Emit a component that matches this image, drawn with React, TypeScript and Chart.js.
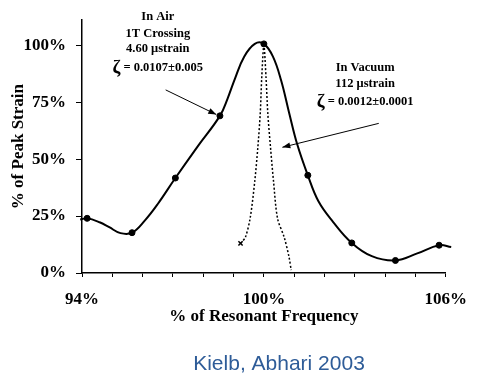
import React, { useEffect, useRef } from 'react';
import { Chart, registerables } from 'chart.js';
Chart.register(...registerables);

// In-air response curve
const airFreq = [93.94, 94.17, 94.58, 94.9, 95.27, 95.65, 96.07, 96.5, 97.08, 97.8, 98.55, 98.8, 99.05, 99.35, 99.7, 100.0, 100.3, 100.57, 100.83, 101.1, 101.45, 101.8, 102.28, 102.9, 103.56, 104.34, 105.06, 105.78, 106.18];
const airStrain = [23.5, 24.0, 22.3, 20.1, 17.5, 17.7, 23.0, 30.3, 41.7, 55.3, 69.0, 76.5, 85.5, 95.0, 100.6, 100.6, 95.0, 84.5, 70.5, 56.5, 42.9, 31.5, 22.5, 13.2, 7.4, 5.5, 8.6, 12.2, 11.4];
// Measured points on the in-air curve
const airMarkerFreq = [94.17, 95.65, 97.08, 98.55, 100.0, 101.45, 102.9, 104.34, 105.78];
const airMarkerStrain = [24.0, 17.7, 41.7, 69.0, 100.6, 42.9, 13.2, 5.5, 12.2];
// In-vacuum response curve
const vacFreq = [99.23, 99.39, 99.55, 99.7, 99.8, 99.88, 99.93, 100.0, 100.07, 100.13, 100.22, 100.32, 100.45, 100.67, 100.83, 100.9];
const vacStrain = [13.0, 15.7, 24.3, 40.4, 55.0, 70.0, 86.0, 100.0, 86.0, 70.0, 55.0, 40.0, 24.0, 15.7, 7.0, 1.3];

const xLabelValues = [94, 100, 106];
const yTickValues = [0, 25, 50, 75, 100];

const airNote = ['In Air', '1T Crossing', '4.60 \u03bcstrain'];
const airZeta = '= 0.0107\u00b10.005';
const vacNote = ['In Vacuum', '112 \u03bcstrain'];
const vacZeta = '= 0.0012\u00b10.0001';
const caption = 'Kielb, Abhari 2003';

const SERIF = '"Liberation Serif", "Times New Roman", serif';

const notesPlugin = {
  id: 'notes',
  afterDraw(chart: any) {
    const { ctx } = chart;
    const xs = chart.scales.x;
    const ys = chart.scales.y;
    const px = (v: number) => xs.getPixelForValue(v);
    const py = (v: number) => ys.getPixelForValue(v);
    ctx.save();
    ctx.fillStyle = '#000';
    ctx.strokeStyle = '#000';
    ctx.textBaseline = 'middle';

    const drawBlock = (lines: string[], lineVals: number[], zeta: string, zetaVal: number, cxVal: number) => {
      const cx = px(cxVal);
      ctx.textAlign = 'center';
      ctx.font = 'bold 12.5px ' + SERIF;
      lines.forEach((l, i) => ctx.fillText(l, cx, py(lineVals[i])));
      const wRest = ctx.measureText(' ' + zeta).width;
      ctx.font = 'bold 19px ' + SERIF;
      const wZ = ctx.measureText('\u03b6').width;
      const start = cx - (wRest + wZ) / 2;
      ctx.textAlign = 'left';
      ctx.fillText('\u03b6', start, py(zetaVal));
      ctx.font = 'bold 12.5px ' + SERIF;
      ctx.fillText(' ' + zeta, start + wZ, py(zetaVal));
    };

    const arrow = (x1: number, y1: number, x2: number, y2: number) => {
      const a1 = px(x1), b1 = py(y1), a2 = px(x2), b2 = py(y2);
      ctx.lineWidth = 1;
      ctx.beginPath();
      ctx.moveTo(a1, b1);
      ctx.lineTo(a2, b2);
      ctx.stroke();
      const ang = Math.atan2(b2 - b1, a2 - a1);
      const L = 8, W = 3;
      ctx.beginPath();
      ctx.moveTo(a2, b2);
      ctx.lineTo(a2 - L * Math.cos(ang) + W * Math.sin(ang), b2 - L * Math.sin(ang) - W * Math.cos(ang));
      ctx.lineTo(a2 - L * Math.cos(ang) - W * Math.sin(ang), b2 - L * Math.sin(ang) + W * Math.cos(ang));
      ctx.closePath();
      ctx.fill();
    };

    drawBlock(airNote, [112.6, 105.2, 98.3], airZeta, 90, 96.5);
    drawBlock(vacNote, [90, 83], vacZeta, 75.2, 103.34);
    arrow(96.76, 80.4, 98.43, 69.6);
    arrow(103.79, 65.7, 100.61, 55.2);

    ctx.textAlign = 'center';
    ctx.fillStyle = '#2E5C98';
    ctx.font = '21px "Liberation Sans", Arial, sans-serif';
    ctx.fillText(caption, 279, 364);
    ctx.restore();
  },
};

export default function App() {
  const ref = useRef<HTMLCanvasElement>(null);
  useEffect(() => {
    if (!ref.current) return;
    const chart = new Chart(ref.current, {
      type: 'scatter',
      data: {
        datasets: [
          {
            label: 'In Air',
            data: airFreq.map((x, i) => ({ x, y: airStrain[i] })),
            showLine: true,
            borderColor: '#000',
            borderWidth: 2,
            pointRadius: 0,
            tension: 0.4,
            fill: false,
          },
          {
            label: 'In Air points',
            data: airMarkerFreq.map((x, i) => ({ x, y: airMarkerStrain[i] })),
            showLine: false,
            backgroundColor: '#000',
            borderColor: '#000',
            pointRadius: 3,
          },
          {
            label: 'In Vacuum',
            data: vacFreq.map((x, i) => ({ x, y: vacStrain[i] })),
            showLine: true,
            borderColor: '#000',
            borderWidth: 1.5,
            borderDash: [2, 2],
            pointRadius: vacFreq.map((_, i) => (i === 0 ? 3 : 0)),
            pointStyle: 'crossRot',
            tension: 0.3,
            fill: false,
          },
        ],
      },
      options: {
        animation: false,
        responsive: false,
        clip: false,
        layout: { padding: { top: 18, right: 23, bottom: 0, left: 0 } },
        plugins: { legend: { display: false }, tooltip: { enabled: false }, title: { display: false } },
        scales: {
          x: {
            type: 'linear',
            min: 94,
            max: 106,
            afterFit: (s: any) => { s.height = 103; },
            afterBuildTicks: (s: any) => {
              const t = [];
              for (let v = 94; v <= 106; v++) t.push({ value: v });
              s.ticks = t;
            },
            ticks: {
              autoSkip: false,
              maxRotation: 0,
              padding: 12,
              color: '#000',
              font: { family: SERIF, size: 17, weight: 'bold' },
              callback: (v: any) => (xLabelValues.includes(Number(v)) ? v + '%' : ''),
            },
            grid: { drawOnChartArea: false, tickLength: 4, color: '#000', tickColor: '#000', tickWidth: 1 },
            border: { color: '#000', width: 1.5 },
            title: {
              display: true,
              text: '% of Resonant Frequency',
              color: '#000',
              font: { family: SERIF, size: 17, weight: 'bold' },
              padding: { top: 0, bottom: 49 },
            },
          },
          y: {
            type: 'linear',
            min: 0,
            max: 111,
            afterFit: (s: any) => { s.width = 82; },
            afterBuildTicks: (s: any) => { s.ticks = yTickValues.map((v) => ({ value: v })); },
            ticks: {
              autoSkip: false,
              padding: 10,
              color: '#000',
              font: { family: SERIF, size: 17, weight: 'bold' },
              callback: (v: any) => v + '%',
            },
            grid: { drawOnChartArea: false, tickLength: 6, color: '#000', tickColor: '#000', tickWidth: 1 },
            border: { color: '#000', width: 1.5 },
            title: {
              display: true,
              text: '% of Peak Strain',
              color: '#000',
              font: { family: SERIF, size: 17, weight: 'bold' },
              padding: { top: 8, bottom: 0 },
            },
          },
        },
      } as any,
      plugins: [notesPlugin],
    });
    return () => chart.destroy();
  }, []);
  return (
    <div style={{ position: 'fixed', left: 0, top: 0, width: 479, height: 376, background: '#fff' }}>
      <canvas ref={ref} width={479} height={376} style={{ width: 479, height: 376, display: 'block' }} />
    </div>
  );
}
